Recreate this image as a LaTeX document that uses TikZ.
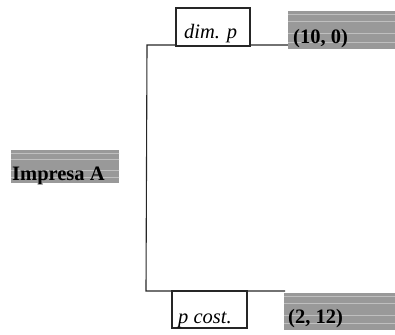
\documentclass[tikz,border=0pt]{standalone}
\usepackage{fontspec}
\setmainfont{Liberation Serif}
\usetikzlibrary{calc}
\begin{document}
\begin{tikzpicture}[x=1pt,y=-1pt,
  frame/.style={draw=black!85,line width=1.1pt},
  whitebox/.style={frame,fill=white,inner sep=0pt},
  graybox/.style={fill=black!40,draw=none,inner sep=0pt,
    path picture={\foreach \f in {0.1,0.28,0.6,0.82}
      \draw[black!25,line width=0.6pt]
        ($(path picture bounding box.north west)!\f!(path picture bounding box.south west)$) -- ++(300pt,0);}},
  lbl/.style={anchor=base west,inner sep=0pt},
  fnt/.style={font=\fontsize{20.5}{24}\selectfont},
]
\useasboundingbox (0,0) rectangle (395,334);
% main open frame
\coordinate (tr) at (288,45);
\coordinate (tl) at (147,45);
\coordinate (bl) at (146,291);
\coordinate (br) at (285,291);
\draw[frame] (tr) -- (tl) -- (bl) -- (br);
% boxes
\node[whitebox,minimum width=74pt,minimum height=38pt] (dim) at (213,27) {};
\node[lbl,font=\fontsize{20.5}{24}\selectfont\itshape] (dimt) at (184,39) {dim. p};
\node[graybox,minimum width=107pt,minimum height=38pt] (g1) at (341.5,30) {};
\node[lbl,font=\fontsize{20.5}{24}\selectfont\bfseries] (g1t) at (293,44) {(10, 0)};
\node[whitebox,minimum width=75pt,minimum height=37pt] (pc) at (209.5,309.5) {};
\node[lbl,font=\fontsize{20.5}{24}\selectfont\itshape] (pct) at (178,323) {p cost.};
\node[graybox,minimum width=111pt,minimum height=37pt] (g2) at (339.5,311.5) {};
\node[lbl,font=\fontsize{20.5}{24}\selectfont\bfseries] (g2t) at (288,323) {(2, 12)};
\node[graybox,minimum width=108pt,minimum height=33pt] (imp) at (65,166.5) {};
\node[lbl,font=\fontsize{20.5}{24}\selectfont\bfseries] (impt) at (12,180) {Impresa A};
\end{tikzpicture}
\end{document}
